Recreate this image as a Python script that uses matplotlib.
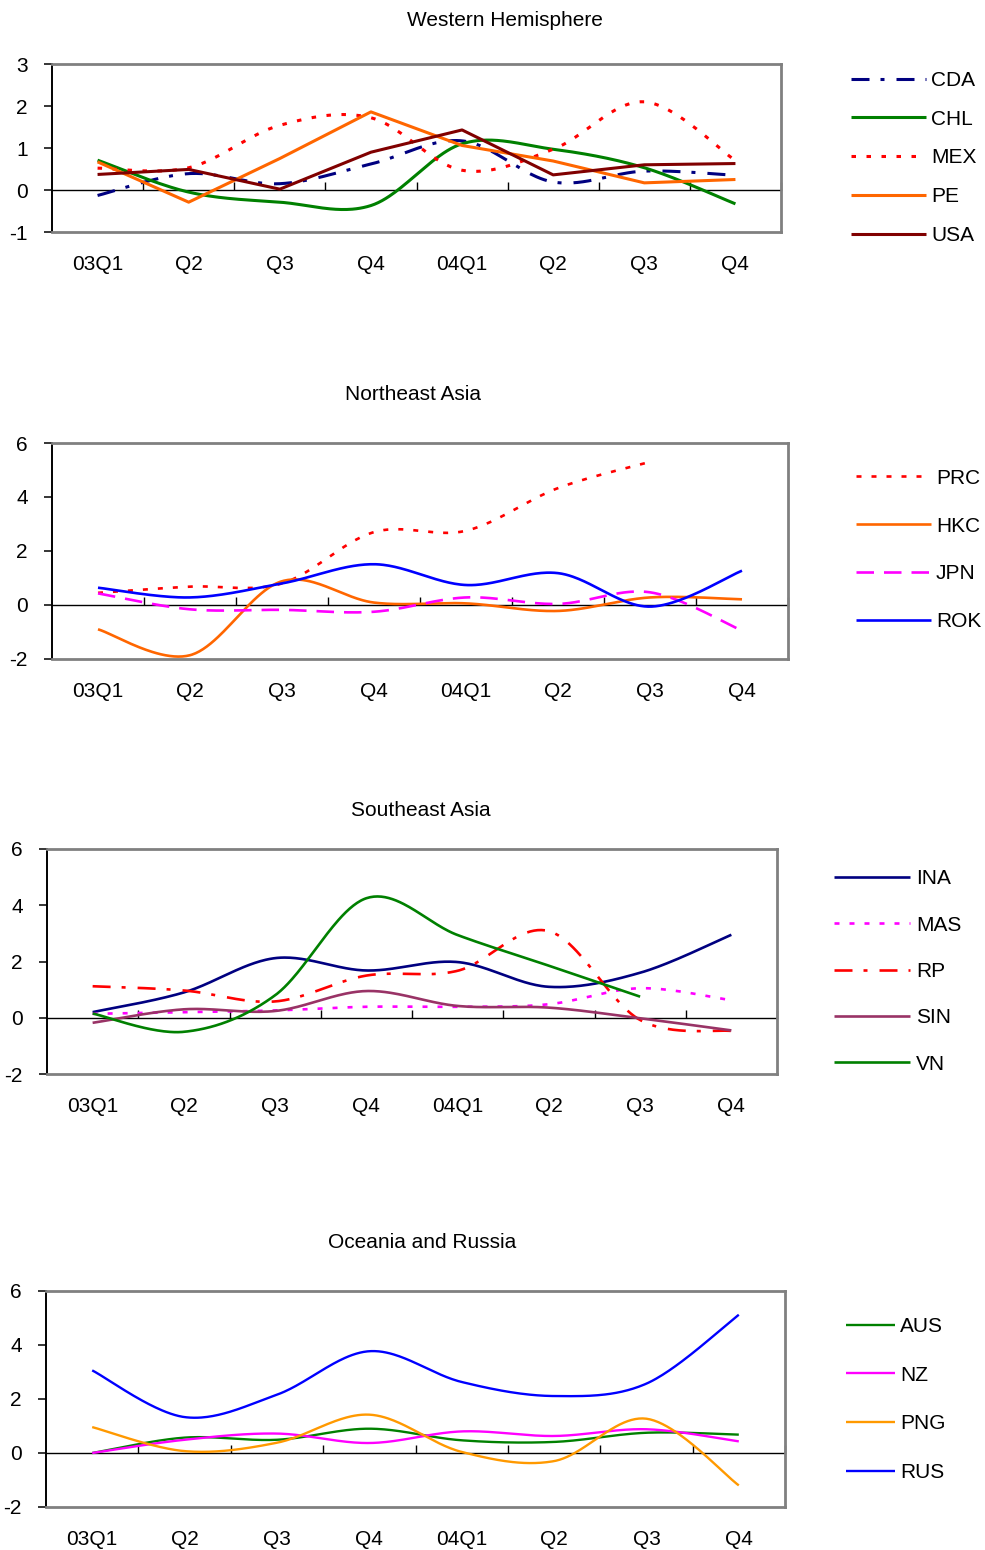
import numpy as np
import matplotlib
matplotlib.use("Agg")
import matplotlib.pyplot as plt

plt.rcParams['font.family'] = ['Liberation Sans', 'DejaVu Sans']

# ---------------- data ----------------
categories = ["03Q1", "Q2", "Q3", "Q4", "04Q1", "Q2", "Q3", "Q4"]
nan = np.nan

# Western Hemisphere
CDA = [-0.13, 0.39, 0.15, 0.62, 1.17, 0.19, 0.45, 0.35]
CHL = [0.71, -0.05, -0.29, -0.37, 1.10, 0.97, 0.53, -0.33]
MEX = [0.52, 0.53, 1.54, 1.72, 0.47, 0.97, 2.10, 0.70]
PE = [0.67, -0.29, 0.75, 1.86, 1.06, 0.69, 0.17, 0.25]
USA = [0.37, 0.49, 0.02, 0.90, 1.43, 0.36, 0.60, 0.63]

# Northeast Asia
PRC = [0.45, 0.68, 0.80, 2.70, 2.75, 4.33, 5.30, nan]
HKC = [-0.90, -1.86, 0.88, 0.09, 0.06, -0.22, 0.28, 0.21]
JPN = [0.43, -0.16, -0.18, -0.25, 0.28, 0.04, 0.47, -0.95]
ROK = [0.64, 0.28, 0.80, 1.51, 0.74, 1.18, -0.06, 1.27]

# Southeast Asia
INA = [0.20, 0.90, 2.12, 1.68, 1.98, 1.10, 1.60, 2.95]
MAS = [0.14, 0.20, 0.26, 0.39, 0.39, 0.48, 1.05, 0.62]
RP = [1.12, 0.97, 0.58, 1.50, 1.67, 3.08, -0.08, -0.47]
SIN = [-0.18, 0.30, 0.24, 0.95, 0.42, 0.36, -0.02, -0.45]
VN = [0.15, -0.50, 0.80, 4.25, 2.94, 1.85, 0.75, nan]

# Oceania and Russia
AUS = [0.00, 0.57, 0.49, 0.90, 0.47, 0.41, 0.75, 0.68]
NZ = [0.00, 0.49, 0.72, 0.37, 0.80, 0.63, 0.88, 0.43]
PNG = [0.96, 0.07, 0.38, 1.42, 0.04, -0.30, 1.27, -1.20]
RUS = [3.06, 1.33, 2.16, 3.77, 2.63, 2.11, 2.57, 5.12]

# ---------------- helpers ----------------
W, H = 985, 1550
fig = plt.figure(figsize=(W / 100, H / 100), dpi=100)
FS = 15


def smooth(vals):
    """Excel-like smoothed line (Catmull-Rom Bezier) through the points."""
    y = np.asarray(vals, float)
    x = np.arange(len(y), dtype=float)
    m = ~np.isnan(y)
    P = np.column_stack([x[m], y[m]])
    n = len(P)
    t = np.linspace(0, 1, 50)[:, None]
    out = []
    for i in range(n - 1):
        p0, p3 = P[i], P[i + 1]
        pm = P[i - 1] if i > 0 else P[i]
        pp = P[i + 2] if i + 2 < n else P[i + 1]
        c1 = p0 + (p3 - pm) / 6.0
        c2 = p3 - (pp - p0) / 6.0
        seg = ((1 - t) ** 3) * p0 + 3 * ((1 - t) ** 2) * t * c1 + 3 * (1 - t) * t ** 2 * c2 + t ** 3 * p3
        out.append(seg if i == 0 else seg[1:])
    s = np.vstack(out)
    return s[:, 0], s[:, 1]


def dash_px(seq, lw_pt):
    lw_px = lw_pt * 100 / 72.0
    return tuple(v / lw_px for v in seq)


def panel(box, ylim, yticks, series, title, title_xy, leg):
    l, r, t, b = box
    ax = fig.add_axes([l / W, 1 - b / H, (r - l) / W, (b - t) / H])
    ax.set_xlim(-0.5, len(categories) - 0.5)
    ax.set_ylim(*ylim)
    for s in ['top', 'right', 'bottom']:
        ax.spines[s].set_color('#808080')
        ax.spines[s].set_linewidth(2.0)
    ax.spines['left'].set_color('black')
    ax.spines['left'].set_linewidth(1.4)
    ax.set_yticks(yticks)
    ax.set_yticklabels([str(v) for v in yticks])
    ax.tick_params(axis='y', direction='out', length=6, width=1.1, pad=11.5,
                   labelsize=FS, colors='black')
    ax.set_xticks(range(len(categories)))
    ax.set_xticklabels(categories)
    ax.tick_params(axis='x', length=0, pad=16.5, labelsize=FS)

    zero_frac = (0 - ylim[0]) / (ylim[1] - ylim[0])
    sec = ax.secondary_xaxis(zero_frac)
    sec.set_xticks(np.arange(0.5, len(categories), 1.0))
    sec.tick_params(axis='x', direction='in', length=6, width=1.0,
                    labelbottom=False, labeltop=False, colors='black')
    for sp in sec.spines.values():
        sp.set_color('black')
        sp.set_linewidth(1.0)

    handles = []
    for name, vals, color, lw, dashes, is_smooth in series:
        if is_smooth:
            xs, ys = smooth(vals)
        else:
            xs, ys = np.arange(len(vals)), np.asarray(vals, float)
        kw = dict(color=color, lw=lw, label=name, solid_capstyle='butt',
                  dash_capstyle='butt')
        if dashes is not None:
            kw['dashes'] = dash_px(dashes, lw)
        ln, = ax.plot(xs, ys, **kw)
        handles.append(ln)

    fig.text(title_xy[0] / W, 1 - (title_xy[1] + 2) / H, title, ha='center',
             va='center', fontsize=FS)

    lx, lyc, hlen, tpad, lspace = leg
    fig.legend(handles=handles, labels=[h.get_label() for h in handles],
               loc='center left', bbox_to_anchor=(lx / W, 1 - lyc / H),
               frameon=False, fontsize=FS, handlelength=hlen / 20.83,
               handletextpad=tpad / 20.83, labelspacing=lspace,
               borderpad=0, borderaxespad=0)
    return ax


NAVY, GREEN, RED, ORANGE, DRED = '#000080', '#008000', '#FF0000', '#FF6600', '#800000'
MAG, BLUE, PURP, GOLD = '#FF00FF', '#0000FF', '#993366', '#FF9900'

DOT = (5, 10)
DASHDOT = (18, 11, 4, 12)
DASH = (17.5, 10)

# Panel 1
panel((52, 781, 64, 232), (-1, 3), [-1, 0, 1, 2, 3],
      [("CDA", CDA, NAVY, 2.2, DASHDOT, True),
       ("CHL", CHL, GREEN, 2.2, None, True),
       ("MEX", MEX, RED, 2.2, (4.5, 10.5), True),
       ("PE", PE, ORANGE, 2.2, None, False),
       ("USA", USA, DRED, 2.2, None, False)],
      "Western Hemisphere", (505, 18), (851, 158, 75, 5, 0.95))

# Panel 2
panel((52, 788, 443, 659), (-2, 6), [-2, 0, 2, 4, 6],
      [("PRC", PRC, RED, 1.9, DOT, True),
       ("HKC", HKC, ORANGE, 1.9, None, True),
       ("JPN", JPN, MAG, 1.9, DASH, True),
       ("ROK", ROK, BLUE, 1.9, None, True)],
      "Northeast Asia", (413, 393), (856, 550, 75, 5, 1.39))

# Panel 3
panel((47, 777, 849, 1074), (-2, 6), [-2, 0, 2, 4, 6],
      [("INA", INA, NAVY, 1.9, None, True),
       ("MAS", MAS, MAG, 1.9, DOT, True),
       ("RP", RP, RED, 1.9, DASHDOT, True),
       ("SIN", SIN, PURP, 1.9, None, True),
       ("VN", VN, GREEN, 1.9, None, True)],
      "Southeast Asia", (421, 808), (834, 971.5, 76, 6, 1.31))

# Panel 4
panel((46, 785, 1291, 1507), (-2, 6), [-2, 0, 2, 4, 6],
      [("AUS", AUS, GREEN, 1.7, None, True),
       ("NZ", NZ, MAG, 1.7, None, True),
       ("PNG", PNG, GOLD, 1.7, None, True),
       ("RUS", RUS, BLUE, 1.7, None, True)],
      "Oceania and Russia", (422, 1241), (846, 1399.5, 49, 5, 1.43))

fig.savefig("out.png", dpi=100, facecolor='white')
